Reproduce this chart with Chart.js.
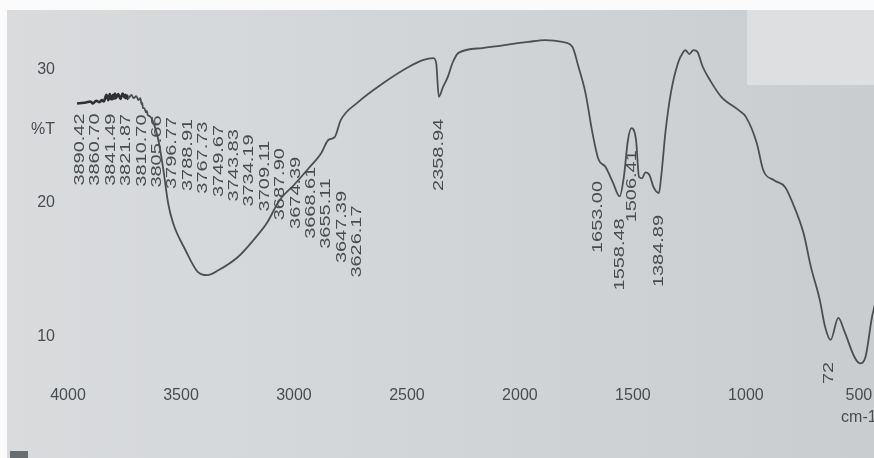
<!DOCTYPE html>
<html>
<head>
<meta charset="utf-8">
<script src="https://cdn.jsdelivr.net/npm/chart.js@4.4.0/dist/chart.umd.min.js"></script>
<style>
  html, body { margin: 0; padding: 0; background: #ffffff; }
  #wrap { width: 874px; height: 458px; position: relative; }
</style>
</head>
<body>
<div id="wrap"><canvas id="ftir" width="874" height="458"></canvas></div>
<script>
// IR spectrum: wavenumber (cm-1) against transmittance (%T)
const wavenumber = [
  3960, 3930, 3900, 3890.42, 3875, 3860.70, 3850, 3841.49, 3830, 3821.87,
  3815, 3810.70, 3808, 3805.66, 3800, 3796.77, 3792, 3788.91, 3778, 3767.73,
  3758, 3749.67, 3746, 3743.83, 3738, 3734.19, 3720, 3709.11, 3698, 3687.90,
  3680, 3674.39, 3671, 3668.61, 3662, 3655.11, 3651, 3647.39, 3638, 3626.17,
  3600, 3578, 3557, 3535, 3481, 3426, 3383, 3333, 3248, 3179,
  3120, 3064, 3000, 2935, 2879, 2849, 2819, 2793, 2720, 2603,
  2491, 2430, 2382, 2370, 2358.94, 2340, 2320, 2298, 2272, 2167,
  1964, 1888, 1812, 1768, 1741, 1710, 1679, 1653.00, 1621, 1590,
  1558.48, 1540, 1522, 1506.41, 1486, 1473, 1459, 1445, 1427, 1409,
  1384.89, 1375, 1355, 1332, 1300, 1277, 1268, 1250, 1232, 1214,
  1191, 1159, 1109, 1032, 1000, 952, 923, 875, 827, 793,
  745, 712, 673, 649, 625, 591, 563, 519, 495, 471,
  442, 423, 394
];
const transmittance = [
  27.45, 27.5, 27.6, 27.45, 27.65, 27.55, 27.7, 27.6, 28.1, 27.7,
  28.15, 27.8, 28.0, 27.75, 28.1, 27.8, 28.2, 27.85, 28.15, 27.8,
  28.2, 27.9, 28.1, 27.85, 28.05, 27.8, 28.1, 27.85, 28.0, 27.7,
  27.85, 27.4, 27.5, 27.1, 27.1, 26.8, 26.9, 26.6, 26.5, 26.2,
  24.7, 22.5, 20.0, 18.5, 16.5, 14.85, 14.6, 14.98, 15.96, 17.23,
  18.5, 20.2, 21.35, 22.6, 23.75, 24.7, 24.95, 26.2, 27.5, 29.0,
  30.2, 30.7, 30.85, 30.4, 27.95, 28.7, 29.4, 30.5, 31.24, 31.6,
  32.06, 32.2, 32.06, 31.7, 30.2, 28.25, 25.25, 23.3, 22.7, 21.6,
  20.5, 21.95, 24.7, 25.6, 24.7, 21.95, 21.85, 22.3, 22.1, 21.2,
  20.75, 21.95, 25.45, 28.25, 30.5, 31.3, 31.45, 31.15, 31.45, 31.3,
  30.2, 29.2, 27.95, 26.95, 26.45, 24.5, 22.45, 21.7, 21.2, 20.0,
  17.75, 15.2, 12.75, 10.7, 9.75, 11.4, 10.35, 8.45, 8.0, 8.45,
  11.45, 12.75, 14.45
];

// peak picks printed along the noisy O-H / moisture region
const clusterPeaks = [
  3890.42, 3860.70, 3841.49, 3821.87, 3810.70, 3805.66, 3796.77, 3788.91,
  3767.73, 3749.67, 3743.83, 3734.19, 3709.11, 3687.90, 3674.39, 3668.61,
  3655.11, 3647.39, 3626.17
];
// individually labelled bands
const bandPeaks = [2358.94, 1653.00, 1558.48, 1506.41, 1384.89];
// band whose pick label is cut off by the frame: only its last digits show
const cutPeak = 625;
const cutPeakText = '72';

// axis ticks
const xTickValues = [4000, 3500, 3000, 2500, 2000, 1500, 1000, 500];
const xUnitText = 'cm-1';
const yTickValues = [10, 20, 25.5, 30];
const yTickText = ['10', '20', '%T', '30'];

const INK = '#4c4f52';
const INK_DARK = '#2e3033';
const TEXT = '#4a4d50';

function tAt(wn) {
  const i = wavenumber.indexOf(wn);
  return transmittance[i];
}

function fmt(v) { return v.toFixed(2); }

// vertical (bottom-to-top) label whose end sits at (x, top)
function drawUpLabel(ctx, text, x, top) {
  ctx.save();
  ctx.translate(x, top);
  ctx.rotate(-Math.PI / 2);
  ctx.scale(1.33, 1);
  ctx.textAlign = 'right';
  ctx.textBaseline = 'middle';
  ctx.fillText(text, 0, 0);
  ctx.restore();
}

const paperPlugin = {
  id: 'paper',
  beforeDraw(chart) {
    const ctx = chart.ctx;
    const W = chart.width, H = chart.height;
    ctx.save();
    ctx.fillStyle = '#fbfbfb';
    ctx.fillRect(0, 0, W, H);
    const g = ctx.createLinearGradient(0, 0, W, 0);
    g.addColorStop(0, '#d9dbdd');
    g.addColorStop(0.5, '#d2d5d8');
    g.addColorStop(1, '#cacdd0');
    ctx.fillStyle = g;
    ctx.fillRect(7, 10, W - 7, H - 10);
    ctx.fillStyle = '#dddfe0';
    ctx.fillRect(747, 10, W - 747, 75);
    ctx.fillStyle = '#6a6d70';
    ctx.fillRect(10, 451, 18, 7);
    ctx.restore();
  }
};

const peakLabelPlugin = {
  id: 'peakLabels',
  afterDatasetsDraw(chart) {
    const ctx = chart.ctx;
    const xs = chart.scales.x, ys = chart.scales.y;
    ctx.save();
    ctx.fillStyle = TEXT;
    ctx.font = '15px "Liberation Sans", Arial, sans-serif';

    // stacked cluster of picks, fanned out to the right
    const n = clusterPeaks.length;
    const x0 = xs.getPixelForValue(clusterPeaks[0]) - 13;
    const top0 = ys.getPixelForValue(tAt(clusterPeaks[0])) + 10;
    clusterPeaks.forEach((wn, i) => {
      const f = i / (n - 1);
      drawUpLabel(ctx, fmt(wn), x0 + i * 15.4, top0 + 92 * f * f * f);
    });

    bandPeaks.forEach(wn => {
      const x = xs.getPixelForValue(wn);
      const y = ys.getPixelForValue(tAt(wn));
      drawUpLabel(ctx, fmt(wn), x, y + 22);
    });

    const cx = xs.getPixelForValue(cutPeak);
    const cy = ys.getPixelForValue(tAt(cutPeak));
    drawUpLabel(ctx, cutPeakText, cx - 2, cy + 22);
    ctx.restore();
  }
};

const points = wavenumber.map((w, i) => ({ x: w, y: transmittance[i] }));
const noisyEnd = wavenumber.indexOf(3734.19);

new Chart(document.getElementById('ftir'), {
  type: 'line',
  data: {
    datasets: [{
      data: points,
      borderColor: INK,
      borderWidth: 1.8,
      pointRadius: 0,
      cubicInterpolationMode: 'monotone',
      fill: false,
      segment: {
        borderColor: c => (c.p0DataIndex < noisyEnd ? INK_DARK : INK),
        borderWidth: c => (c.p0DataIndex < noisyEnd ? 2.6 : 1.8)
      }
    }]
  },
  options: {
    responsive: false,
    animation: false,
    events: [],
    layout: { padding: { top: 10, right: 0, bottom: 0, left: 0 } },
    plugins: { legend: { display: false }, tooltip: { enabled: false } },
    scales: {
      x: {
        type: 'linear',
        reverse: true,
        min: 433,
        max: 4000,
        afterBuildTicks(axis) { axis.ticks = xTickValues.map(v => ({ value: v })); },
        afterFit(axis) { axis.height = 78; axis.paddingLeft = 0; axis.paddingRight = 0; },
        grid: { display: false, drawTicks: false },
        border: { display: false },
        ticks: {
          autoSkip: false,
          maxRotation: 0,
          padding: 4,
          color: TEXT,
          font: { family: '"Liberation Sans", Arial, sans-serif', size: 16, lineHeight: 1.4 },
          callback(v) { return v === 500 ? [String(v), xUnitText] : String(v); }
        }
      },
      y: {
        min: 6.75,
        max: 34.45,
        afterBuildTicks(axis) { axis.ticks = yTickValues.map(v => ({ value: v })); },
        afterFit(axis) { axis.width = 68; axis.paddingTop = 0; axis.paddingBottom = 0; },
        grid: { display: false, drawTicks: false },
        border: { display: false },
        ticks: {
          autoSkip: false,
          padding: 13,
          color: TEXT,
          font: { family: '"Liberation Sans", Arial, sans-serif', size: 16 },
          callback(v) { const i = yTickValues.indexOf(v); return i >= 0 ? yTickText[i] : ''; }
        }
      }
    }
  },
  plugins: [paperPlugin, peakLabelPlugin]
});
</script>
</body>
</html>
